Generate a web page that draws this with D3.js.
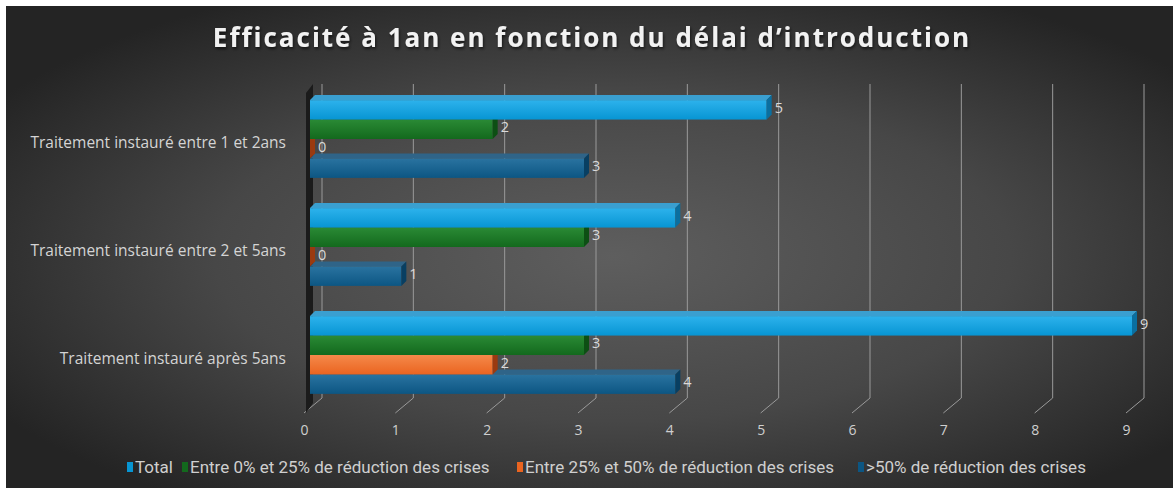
<!DOCTYPE html>
<html>
<head>
<meta charset="utf-8">
<script src="https://cdn.jsdelivr.net/npm/d3@7/dist/d3.min.js"></script>
<style>
  html, body { margin: 0; padding: 0; background: #ffffff; }
  svg { display: block; }
</style>
</head>
<body>
<svg id="chart" width="1173" height="488"></svg>
<script>
// Chart data
const categories = [
  "Traitement instauré entre 1 et 2ans",
  "Traitement instauré entre 2 et 5ans",
  "Traitement instauré après 5ans"
];
const seriesNames = [
  "Total",
  "Entre 0% et 25% de réduction des crises",
  "Entre 25% et 50% de réduction des crises",
  ">50% de réduction des crises"
];
const totalValues = [5, 4, 9];
const entre0et25 = [2, 3, 3];
const entre25et50 = [0, 0, 2];
const plus50 = [3, 1, 4];
const tickValues = [0, 1, 2, 3, 4, 5, 6, 7, 8, 9];
const titleText = "Efficacité à 1an en fonction du délai d’introduction";

const seriesValues = [totalValues, entre0et25, entre25et50, plus50];

// Face colours per series: top of front gradient, bottom of front gradient, top face, side face
const palette = [
  { a: "#2db2ec", b: "#0795d3", top: "#3a9fd0", side: "#0a6fa0" },
  { a: "#2a8a35", b: "#13691d", top: "#2a7a33", side: "#0d4f14" },
  { a: "#f5894a", b: "#ea6420", top: "#d86a30", side: "#9a3a10" },
  { a: "#2a73a0", b: "#0c5683", top: "#2f6488", side: "#083f62" }
];

const W = 1173, H = 488;
const svg = d3.select("#chart");
const defs = svg.append("defs");

// Background
const bg = defs.append("radialGradient").attr("id", "bg")
  .attr("cx", "52%").attr("cy", "52%").attr("r", "62%");
bg.append("stop").attr("offset", "0%").attr("stop-color", "#5e5e5e");
bg.append("stop").attr("offset", "55%").attr("stop-color", "#474747");
bg.append("stop").attr("offset", "100%").attr("stop-color", "#242424");
svg.append("rect").attr("x", 6).attr("y", 6).attr("width", W - 6).attr("height", H - 6)
  .attr("fill", "url(#bg)");

palette.forEach((p, i) => {
  const g = defs.append("linearGradient").attr("id", "front" + i)
    .attr("x1", 0).attr("y1", 0).attr("x2", 0).attr("y2", 1);
  g.append("stop").attr("offset", "0%").attr("stop-color", p.a);
  g.append("stop").attr("offset", "100%").attr("stop-color", p.b);
});

const shadow = defs.append("filter").attr("id", "tshadow")
  .attr("x", "-5%").attr("y", "-20%").attr("width", "110%").attr("height", "150%");
shadow.append("feDropShadow").attr("dx", 1).attr("dy", 2).attr("stdDeviation", 1.5)
  .attr("flood-color", "#000").attr("flood-opacity", 0.6);

const labelFont = "'Open Sans', Roboto, sans-serif";

// Title
svg.append("text")
  .attr("x", 592).attr("y", 47)
  .attr("text-anchor", "middle")
  .attr("font-family", labelFont)
  .attr("font-weight", "bold")
  .attr("font-size", 26)
  .attr("letter-spacing", 2)
  .attr("fill", "#f2f2f2")
  .attr("filter", "url(#tshadow)")
  .text(titleText);

// Scales: x for the front axis plane, bars sit a little deeper
const x = d3.scaleLinear().domain([0, 9]).range([304, 1126]);
const barOff = 6;        // bar front face shift from front plane
const depthX = 18, depthY = 15;  // back wall shift
const barDX = 5, barDY = 5;      // bar thickness

const y = d3.scaleBand().domain(categories).range([85, 409])
  .paddingInner(0.28).paddingOuter(0.14);
const ySub = d3.scaleBand().domain(seriesNames).range([0, y.bandwidth()]);

const floorBack = 398, floorFront = 413, wallTop = 84;

// Gridlines: vertical on the back wall, slanted across the floor
const grid = svg.append("g");
tickValues.forEach(v => {
  const xb = x(v) + depthX, xf = x(v);
  grid.append("path")
    .attr("d", `M${xb},${wallTop} L${xb},${floorBack} L${xf},${floorFront}`)
    .attr("fill", "none").attr("stroke", "#9a9a9a").attr("stroke-width", 1);
});

// Left side wall
svg.append("path")
  .attr("d", `M${x(0) + 2},${wallTop + 9} L${x(0) + 9},${wallTop} L${x(0) + 9},${floorBack + 5} L${x(0) + 2},${floorFront} Z`)
  .attr("fill", "#1b1b1b");

// Axis tick labels
const xAxis = d3.axisBottom(x).tickValues(tickValues).tickSize(0).tickPadding(0);
const axisG = svg.append("g").attr("transform", `translate(0,${425})`).call(xAxis);
axisG.select(".domain").remove();
axisG.selectAll("text")
  .attr("font-family", labelFont)
  .attr("font-size", 14)
  .attr("fill", "#cfcfcf");

// Category labels
const yAxis = d3.axisLeft(y).tickSize(0).tickPadding(0);
const yG = svg.append("g").attr("transform", `translate(286,4)`).call(yAxis);
yG.select(".domain").remove();
yG.selectAll("text")
  .attr("font-family", labelFont)
  .attr("font-size", 15.5)
  .attr("fill", "#d4d4d4");

// Bars (drawn bottom series first so upper bars cover the top faces below)
const barsG = svg.append("g");
categories.forEach((cat, ci) => {
  for (let si = seriesNames.length - 1; si >= 0; si--) {
    const v = seriesValues[si][ci];
    const p = palette[si];
    const x0 = x(0) + barOff, x1 = x(v) + barOff;
    const y0 = y(cat) + ySub(seriesNames[si]);
    const h = ySub.bandwidth();
    const g = barsG.append("g");
    // top face
    g.append("path")
      .attr("d", `M${x0},${y0} L${x0 + barDX},${y0 - barDY} L${x1 + barDX},${y0 - barDY} L${x1},${y0} Z`)
      .attr("fill", p.top);
    // front face
    g.append("rect").attr("x", x0).attr("y", y0).attr("width", Math.max(0, x1 - x0)).attr("height", h)
      .attr("fill", `url(#front${si})`);
    // side face
    g.append("path")
      .attr("d", `M${x1},${y0} L${x1 + barDX},${y0 - barDY} L${x1 + barDX},${y0 + h - barDY} L${x1},${y0 + h} Z`)
      .attr("fill", p.side);
  }
});

// Value labels
categories.forEach((cat, ci) => {
  seriesNames.forEach((s, si) => {
    const v = seriesValues[si][ci];
    svg.append("text")
      .attr("x", x(v) + barOff + barDX + 3)
      .attr("y", y(cat) + ySub(s) + ySub.bandwidth() / 2 - 1)
      .attr("dominant-baseline", "middle")
      .attr("font-family", labelFont)
      .attr("font-size", 14.5)
      .attr("fill", "#dadada")
      .text(v);
  });
});

// Legend
const legendX = [127, 182, 517, 858];
const legend = svg.append("g");
seriesNames.forEach((s, i) => {
  legend.append("rect").attr("x", legendX[i]).attr("y", 462).attr("width", 6).attr("height", 10)
    .attr("fill", palette[i].b);
  legend.append("text").attr("x", legendX[i] + 8).attr("y", 473)
    .attr("font-family", "'Liberation Sans Narrow', Roboto, sans-serif")
    .attr("font-size", 17)
    .attr("fill", "#cfcfcf")
    .text(s);
});
</script>
</body>
</html>
